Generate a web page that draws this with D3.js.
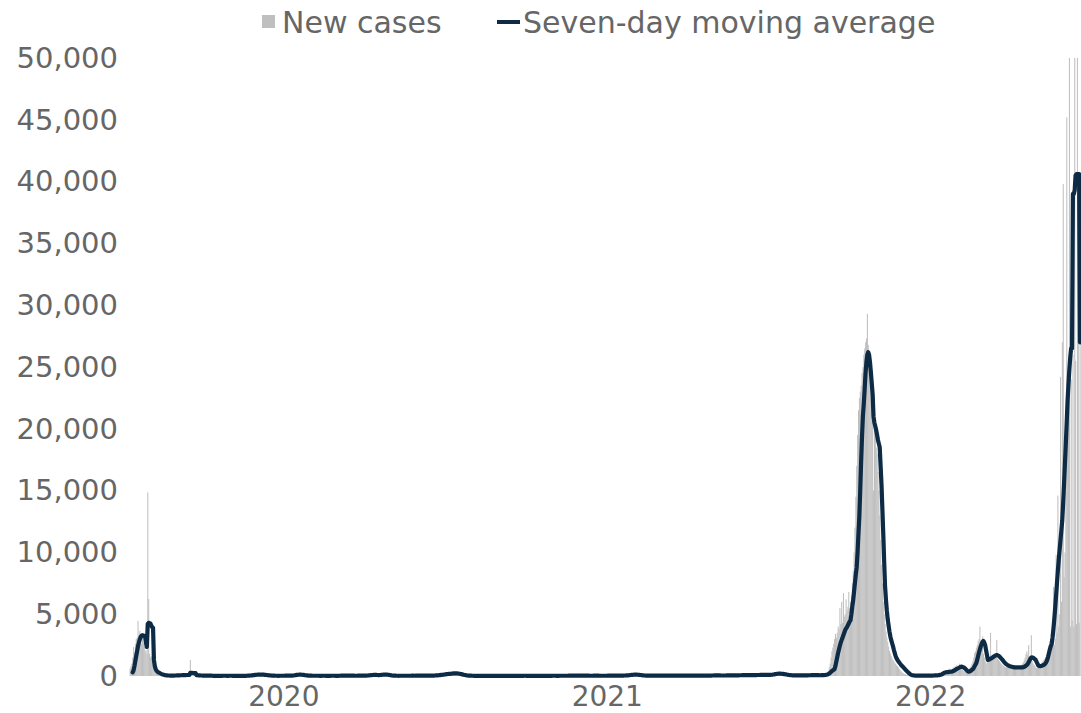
<!DOCTYPE html>
<html>
<head>
<meta charset="utf-8">
<script src="https://cdn.jsdelivr.net/npm/d3@7/dist/d3.min.js"></script>
<style>
  body { margin: 0; background: #fff; }
  svg { display: block; }
</style>
</head>
<body>
<div id="chart"></div>
<script>
// Daily new cases and seven-day moving average.
// One value per day, starting 10 Jan 2020.
const startDate = Date.UTC(2020, 0, 10);

const cases2020 = [
  600,800,1000,1500,2350,1900,2600,3000,3100,4460,3300,3650,3000,2600,3200,2700,2400,2000,2100,1800,
  14850,6240,1800,1500,1600,1300,900,700,450,500,350,300,400,250,200,150,120,100,80,60,
  50,40,60,80,50,40,35,45,30,50,60,40,45,55,70,60,80,90,75,60,
  80,100,85,70,60,90,80,70,1300,110,95,80,70,85,60,75,50,40,45,30,
  35,40,25,30,20,15,90,60,40,30,25,20,15,10,12,8,10,15,20,12,
  10,8,15,20,25,30,20,15,10,12,18,25,30,22,15,10,8,12,15,10,
  8,10,12,15,20,18,15,12,10,15,20,25,30,38,44,52,61,74,83,96,
  104,112,125,108,97,88,121,133,109,102,91,77,68,59,47,44,38,33,29,24,
  20,22,25,20,18,15,12,15,20,25,20,18,22,25,30,28,25,20,22,25,
  31,42,49,63,71,84,92,104,113,126,108,97,91,78,69,58,47,39,34,29,
  25,20,22,25,20,18,15,20,25,22,20,18,15,12,15,20,22,25,20,18,
  15,12,15,18,20,22,25,20,18,15,12,15,18,20,22,25,28,30,25,20,
  22,25,30,28,25,20,18,22,25,30,25,20,18,15,20,22,25,30,28,25,
  20,22,25,31,36,43,47,52,58,63,72,84,93,101,88,79,72,61,52,44,
  41,63,82,97,118,143,152,127,121,99,83,58,49,41,33,28,24,22,19,25,
  22,20,18,15,20,22,25,20,18,22,25,20,18,15,20,22,25,28,30,25,
  22,20,25,30,35,30,25,22,20,25,30,28,25,22,20,25,30,28,24,27,
  31,36,42,47,53,58,64,71,82,93,104,112,123,131,142,155,163
];
const cases2021 = [
  158,171,166,189,194,213,205,226,231,219,212,198,187,176,158,143,118,97,82,63,
  50,45,40,35,30,28,25,22,20,18,15,14,12,10,12,15,18,20,22,20,
  18,16,14,12,10,10,12,14,16,18,15,12,10,8,10,12,14,16,14,12,
  10,8,10,12,14,12,10,8,6,8,10,12,14,16,18,16,14,12,10,8,
  10,12,14,16,18,20,22,20,18,16,14,12,10,12,14,16,18,20,18,16,
  14,12,10,12,14,16,18,20,22,20,18,16,14,12,14,16,18,20,22,24,
  22,20,18,16,14,16,18,20,22,24,26,24,22,20,18,20,22,24,26,28,
  26,24,22,20,22,24,26,28,30,28,26,24,22,20,22,24,26,28,26,24,
  22,20,18,20,22,24,26,28,26,24,22,20,18,20,22,24,22,20,18,20,
  22,24,26,28,30,32,30,28,26,24,22,24,26,28,30,32,34,36,40,45,
  31,34,38,43,49,57,64,76,83,94,102,111,117,122,113,106,98,87,79,68,
  60,50,45,40,35,30,28,26,24,22,20,22,24,26,28,30,28,26,24,22,
  20,22,24,26,28,30,28,26,24,22,20,22,24,26,28,30,32,30,28,26,
  24,22,20,22,24,26,28,30,32,34,36,34,32,30,28,26,24,22,24,26,
  28,30,32,34,36,38,40,38,36,34,32,30,28,30,32,34,36,38,40,42,
  44,46,48,50,48,46,44,42,40,38,36,38,40,42,44,46,48,50,52,54,
  52,48,55,60,45,58,62,50,66,70,55,64,72,60,68,75,58,70,80,66,
  74,62,78,85,70,64,80,88,72,76,90,82,70,86,95,78,84,100,88,92,
  96,85,105,92,100
];
const cases2022 = [
  92,108,127,153,171,186,203,182,214,193,168,179,157,149,138,126,117,102,91,83,
  70,60,55,50,45,50,45,40,50,45,40,35,40,45,50,45,40,50,55,60,
  50,55,60,65,70,60,55,65,70,75,80,70,60,55,60,65,
  50,60,80,70,90,100,120,150,200,300,400,700,1000,1500,2000,2300,2600,3000,3400,3100,
  3500,4000,3800,5500,4200,6000,4300,6700,4800,5000,6200,5300,5600,6800,
  5500,6000,6500,7500,8500,10000,12000,14500,17000,19500,21500,22500,23000,23500,24500,25000,26000,26500,27000,27300,
  29300,26800,26000,25000,24000,23000,21500,15000,20000,19500,18500,18000,16500,15000,13000,11000,9000,7500,6000,5000,
  4200,3600,3100,2750,2380,2040,1820,1590,1430,1280,1190,1060,980,870,790,680,590,470,390,310,
  250,200,150,120,100,80,60,50,40,35,30,28,30,25,32,28,26,30,27,29,
  30,25,20,30,35,28,25,30,35,40,30,35,45,50,40,60,70,90,110,130,
  100,150,200,250,300,350,300,400,350,450,400,500,450,600,500,550,600,700,650,800,
  700,900,750,800,1000,700,600,500,450,400,350,300,400,450,500,600,700,800,1000,1200,
  1500,1860,2000,2300,2500,2800,3000,4000,2600,2200,3200,1800,1500,1200,1000,1100,1300,1400,1500,3500,
  1600,1700,1800,1700,1600,1500,2900,1400,1300,1200,1100,1000,900,850,800,750,700,700,650,700,
  650,700,600,650,700,650,700,750,700,650,700,750,800,850,900,1000,1100,1300,1500,1800,
  2000,1700,2500,1400,1600,3300,1200,1000,900,800,700,650,700,750,800,900,1000,1100,1200,1300,
  1400,1500,1700,1900,2200,2500,2800,3000,
  2000,2500,7200,2500,3000,9800,3500,14600,4000,5000,24200,6000,27000,39800,8000,10000,15000,45200,20000,25000,
  60000,4000,24000,4500,26000,4000,60000,25500,4200,60000,31600,4300,31600
];

const avg2020 = [
  null,null,null,300,450,800,1200,1600,2000,2400,2700,2950,3150,3250,3300,3280,3250,3200,2700,2350,
  4200,4300,4280,4250,4100,3950,3900,1300,800,550,420,350,300,260,220,180,140,120,100,80,
  60,50,45,40,40,35,30,30,30,35,35,40,40,45,45,50,55,60,60,65,
  70,70,75,75,80,80,80,80,250,250,250,245,240,235,230,70,60,55,50,45,
  40,40,35,35,30,30,35,35,35,35,30,30,25,20,18,15,14,13,13,13,
  14,14,15,16,18,20,20,20,19,18,17,18,20,21,20,19,17,15,13,12,
  11,11,12,13,14,15,15,16,16,16,17,18,20,24,28,33,40,48,57,66,
  76,86,95,103,108,110,112,113,114,113,110,104,97,89,80,71,62,54,46,39,
  33,28,25,23,22,20,19,18,18,19,20,20,20,21,22,24,25,25,24,24,
  25,27,31,36,43,52,63,74,86,97,103,106,107,106,103,97,86,74,63,54,
  45,37,30,27,25,23,22,22,22,22,21,20,19,19,18,18,18,19,20,20,
  19,18,18,17,17,18,18,19,20,20,20,19,18,17,17,18,20,22,24,24,
  24,24,25,25,25,25,24,24,24,24,25,25,24,23,22,22,22,23,25,26,
  26,25,25,25,26,28,32,37,42,47,54,61,68,76,81,84,86,86,84,80,
  77,77,80,86,94,104,114,118,120,119,114,104,93,80,67,54,43,35,28,26,
  24,22,20,18,19,19,20,20,20,20,21,21,21,21,20,20,21,22,23,23,
  23,22,23,24,26,27,27,27,26,25,25,26,26,26,25,25,26,27,26,26,
  27,29,32,35,39,43,48,53,60,68,76,85,94,104,114,125,136
];
const avg2021 = [
  145,152,160,168,176,185,194,203,211,216,216,213,209,203,194,181,166,149,131,112,
  95,80,66,54,44,37,32,28,25,22,20,18,16,14,14,14,15,16,17,17,
  17,17,16,15,14,13,13,13,13,13,14,14,13,12,12,12,13,14,14,13,
  12,11,11,11,11,11,11,11,10,10,10,10,11,12,13,14,14,14,14,13,
  13,13,13,13,14,15,17,18,19,19,18,17,16,15,14,14,15,16,16,16,
  16,16,15,15,15,15,15,15,16,17,18,18,17,16,15,15,16,16,17,18,
  19,19,19,19,18,18,18,18,19,20,21,21,21,21,20,20,21,22,23,23,
  24,24,24,24,24,24,24,24,25,26,27,26,25,24,24,24,25,25,25,25,
  24,23,22,22,22,22,23,24,25,25,25,24,23,22,22,22,22,22,21,21,
  21,22,23,24,25,27,28,28,28,27,26,26,26,27,28,29,30,31,33,36,
  38,40,42,45,49,54,61,70,79,88,97,103,108,110,109,106,101,95,88,80,
  72,63,55,47,41,36,32,29,26,24,23,23,24,24,25,26,26,26,25,25,
  24,24,24,24,25,26,26,26,25,25,25,25,25,25,25,26,27,27,28,28,
  27,27,26,25,25,24,24,25,26,28,30,31,32,32,31,30,29,28,27,26,
  26,27,28,30,32,34,35,36,36,36,35,34,33,33,33,33,34,35,36,37,
  39,41,43,45,46,46,46,45,44,43,42,41,41,41,41,42,43,44,45,47,
  48,49,50,51,51,52,54,54,55,57,58,59,61,62,64,66,65,66,68,68,
  69,68,70,72,73,72,74,75,75,76,78,80,80,81,83,83,84,86,87,88,
  89,90,93,93,94
];
const avg2022 = [
  94,96,101,109,120,134,150,162,174,183,187,189,189,184,177,166,156,146,133,119,
  105,92,81,72,64,59,54,50,48,47,46,46,45,44,44,44,44,45,47,48,
  49,50,52,56,59,61,62,63,63,65,68,70,68,65,64,63,
  60,62,65,68,72,76,82,90,100,120,150,200,260,330,400,450,500,560,800,1150,1500,1850,
  2150,2450,2700,2900,3100,3300,3500,3700,3850,3950,4100,4250,4400,4500,5000,5600,6100,6800,7500,8200,
  8800,10000,11500,12900,15000,17300,19300,21000,22000,23200,24500,25400,26000,26200,26000,25400,24600,23700,22800,21000,
  20500,20200,19900,19500,19100,18800,18500,17000,15500,13500,11500,9300,7300,6200,5300,4600,4100,3600,3200,2900,
  2650,2400,2100,1850,1600,1430,1300,1200,1100,1000,900,820,760,680,600,520,440,370,300,230,
  170,120,80,60,50,40,35,30,30,28,27,27,
  26,26,25,25,26,27,28,29,30,30,31,32,33,35,38,42,47,50,52,55,
  60,75,90,100,130,170,220,270,290,300,310,320,330,340,345,350,370,400,440,480,
  530,570,610,650,690,730,760,750,720,680,630,560,480,410,360,350,380,430,490,550,
  650,780,920,1040,1300,1600,1900,2150,2400,2600,2750,2830,2700,2500,2100,1700,1300,1320,1350,1400,
  1430,1480,1530,1580,1630,1670,1700,1680,1640,1580,1510,1430,1350,1260,1170,1090,1010,950,900,850,
  820,790,770,750,730,715,700,700,700,695,690,690,690,695,700,700,710,740,780,840,
  890,980,1100,1250,1400,1500,1510,1480,1420,1360,1300,1150,990,850,810,800,810,830,860,890,
  940,1020,1130,1300,1550,1850,2150,2400,
  2600,3100,3800,4600,5500,6500,7500,8500,9400,10200,11000,11800,12600,14000,15500,17200,18800,20500,22300,23600,
  24800,25800,26500,26500,39000,39000,39300,40500,40600,40600,40600,40600,27000
];

const yTicks = [0, 5000, 10000, 15000, 20000, 25000, 30000, 35000, 40000, 45000, 50000];
const yearLabels = [Date.UTC(2020, 6, 1), Date.UTC(2021, 6, 1), Date.UTC(2022, 6, 1)];
const seriesNames = ["New cases", "Seven-day moving average"];

const width = 1081;
const height = 713;
const barColor = "#bfbfbf";
const lineColor = "#0d2b45";
const textColor = "#666666";
const fontFamily = "'DejaVu Sans', sans-serif";

function drawChart() {
  const newCases = cases2020.concat(cases2021, cases2022);
  const movingAvg = avg2020.concat(avg2021, avg2022);
  const data = newCases.map((v, i) => ({
    date: d3.utcDay.offset(new Date(startDate), i),
    cases: v,
    avg: movingAvg[i]
  }));

  const svg = d3.select("#chart").append("svg")
    .attr("width", width)
    .attr("height", height);

  const x = d3.scaleUtc()
    .domain([data[0].date, data[data.length - 1].date])
    .range([130, 1080]);

  const y = d3.scaleLinear()
    .domain([0, 50000])
    .range([676, 58]);

  const step = x(data[1].date) - x(data[0].date);

  // clip tall bars at the top of the plot like the original
  svg.append("clipPath").attr("id", "plot-clip")
    .append("rect")
    .attr("x", 120).attr("y", y(50000))
    .attr("width", 970).attr("height", y(0) - y(50000) + 2);

  // bars
  svg.append("g")
    .attr("clip-path", "url(#plot-clip)")
    .selectAll("rect")
    .data(data)
    .join("rect")
    .attr("x", d => x(d.date) - step / 2)
    .attr("width", step + 0.15)
    .attr("y", d => y(d.cases))
    .attr("height", d => y(0) - y(d.cases))
    .attr("fill", barColor);

  // moving average line
  const line = d3.line()
    .defined(d => d.avg != null)
    .x(d => x(d.date))
    .y(d => y(d.avg));

  svg.append("path")
    .datum(data)
    .attr("fill", "none")
    .attr("stroke", lineColor)
    .attr("stroke-width", 4.2)
    .attr("stroke-linejoin", "round")
    .attr("stroke-linecap", "round")
    .attr("d", line);

  // y axis
  const yAxis = svg.append("g")
    .attr("transform", "translate(130,0)")
    .call(d3.axisLeft(y).tickValues(yTicks).tickFormat(d3.format(",")).tickSize(0).tickPadding(12));
  yAxis.select(".domain").remove();
  yAxis.selectAll("text")
    .attr("fill", textColor)
    .style("font-family", fontFamily)
    .style("font-size", "29px");

  // x axis
  const xAxis = svg.append("g")
    .attr("transform", `translate(0,${y(0)})`)
    .call(d3.axisBottom(x).tickValues(yearLabels.map(d => new Date(d))).tickFormat(d3.utcFormat("%Y")).tickSize(0).tickPadding(10));
  xAxis.select(".domain").remove();
  xAxis.selectAll("text")
    .attr("fill", textColor)
    .style("font-family", fontFamily)
    .style("font-size", "28px");

  // legend
  const legend = svg.append("g").style("font-family", fontFamily).style("font-size", "30px");
  legend.append("rect")
    .attr("x", 262).attr("y", 15).attr("width", 13).attr("height", 13)
    .attr("fill", barColor);
  legend.append("text")
    .attr("x", 282).attr("y", 22).attr("dy", "0.35em")
    .attr("fill", textColor)
    .text(seriesNames[0]);
  legend.append("line")
    .attr("x1", 497).attr("x2", 520).attr("y1", 22).attr("y2", 22)
    .attr("stroke", lineColor).attr("stroke-width", 4);
  legend.append("text")
    .attr("x", 523).attr("y", 22).attr("dy", "0.35em")
    .attr("fill", textColor)
    .text(seriesNames[1]);
}

drawChart();
</script>
</body>
</html>
